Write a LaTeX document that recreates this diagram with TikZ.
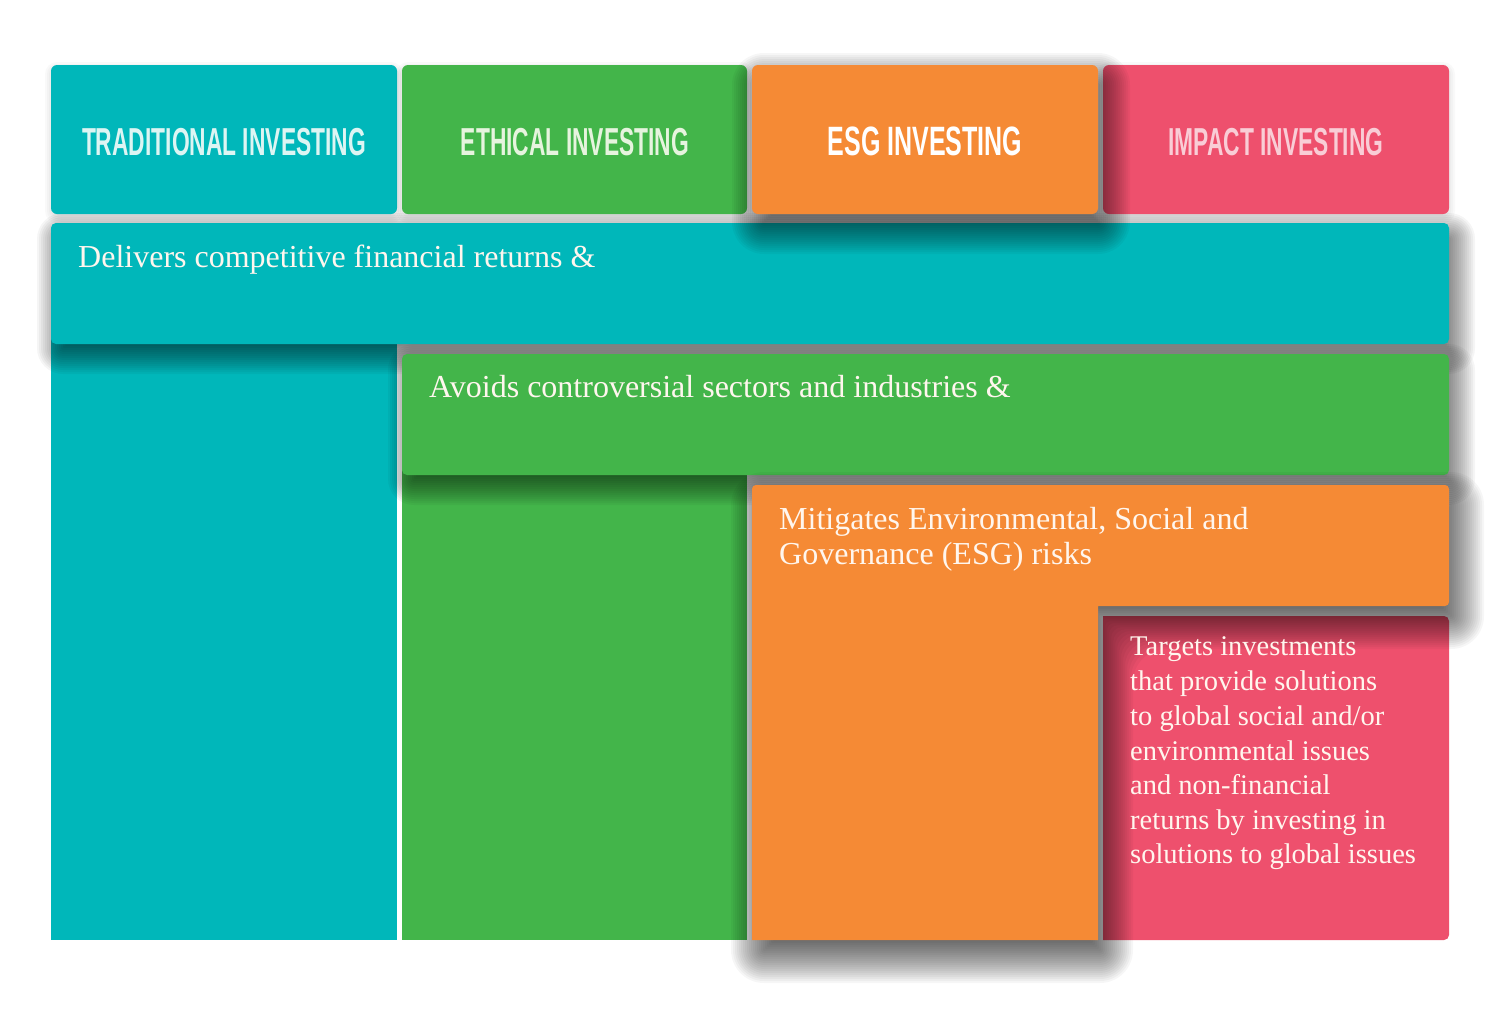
\documentclass[tikz,border=0pt]{standalone}
\usepackage{fontspec}
\usepackage{graphicx}
\setmainfont{Liberation Serif}
\newfontfamily\headfont{Liberation Sans}
\definecolor{cteal}{HTML}{00B7BA}
\definecolor{cgreen}{HTML}{43B54A}
\definecolor{corange}{HTML}{F58A35}
\definecolor{cpink}{HTML}{EE506D}
\definecolor{htteal}{HTML}{DDF5F3}
\definecolor{htgreen}{HTML}{E6F4DE}
\definecolor{htpink}{HTML}{F9CDD6}
\definecolor{bodytxt}{HTML}{FFF6EE}
% soft shadow of a rectangle: x1 y1 x2 y2 dx dy klist opacity
\newcommand\rectshadow[8]{%
  \foreach \k in {#7}{%
    \pgfmathsetmacro\rr{max(1,\k+6)}%
    \fill[black, opacity=#8, rounded corners=\rr pt]
      ({#1+#5-\k},{#2+#6-\k}) rectangle ({#3+#5+\k},{#4+#6+\k});}}
% soft shadow of the L shape: x1 y1 x2 y2 xi y3 dx dy klist (opacity \Lop)
\newcommand\Lshadow[9]{%
  \foreach \k in {#9}{%
    \pgfmathsetmacro\rr{max(1,\k+5)}%
    \fill[black, opacity=\Lop, rounded corners=\rr pt]
      ({#1+#7-\k},{#2+#8-\k}) -- ({#3+#7+\k},{#2+#8-\k}) -- ({#3+#7+\k},{#4+#8+\k})
      -- ({#5+#7+\k},{#4+#8+\k}) -- ({#5+#7+\k},{#6+#8+\k}) -- ({#1+#7-\k},{#6+#8+\k}) -- cycle;}}
\def\Lop{0.035}
\tikzset{
  hdrtext/.style={inner sep=0pt, anchor=center},
  bodyline/.style={inner sep=0pt, anchor=base west, text=bodytxt, font=\fontsize{32}{35}\selectfont},
  pinkline/.style={inner sep=0pt, anchor=base west, text=bodytxt, font=\fontsize{28.5}{35}\selectfont},
}
\newcommand\hdr[3]{{\headfont\fontsize{#1}{#1}\selectfont\bfseries\scalebox{#2}[1]{#3}}}
\begin{document}
\begin{tikzpicture}[x=1pt,y=-1pt]
\useasboundingbox (0,0) rectangle (1500,1026);
\fill[white] (0,0) rectangle (1500,1026);
% teal column
\fill[cteal] (51,320) rectangle (397,940);
% teal band
\rectshadow{51}{223}{1449}{344}{6}{10}{-16,-14,...,20}{0.04}
\fill[cteal, rounded corners=5] (51,223) rectangle (1449,344);
% green column
\fill[cgreen] (402,450) rectangle (747,940);
% green band
\rectshadow{402}{354}{1449}{475}{6}{10}{-16,-14,...,20}{0.04}
\fill[cgreen, rounded corners=5] (402,354) rectangle (1449,475);
% pink box
\fill[cpink, rounded corners=5] (1103,616) -- (1449,616) -- (1449,940) [sharp corners] -- (1103,940) -- cycle;
% orange L
\Lshadow{752}{485}{1449}{606}{1098}{940}{7}{15}{-20,-18,...,28}
\fill[corange, rounded corners=4] (752,485) -- (1449,485) -- (1449,606) [sharp corners] -- (1098,606) -- (1098,940) -- (752,940) [rounded corners=4] -- cycle;
% headers
\rectshadow{51}{65}{397}{214}{0}{3}{-4,-2,...,6}{0.025}
\fill[cteal, rounded corners=6] (51,65) rectangle (397,214);
\rectshadow{402}{65}{747}{214}{0}{3}{-4,-2,...,6}{0.025}
\fill[cgreen, rounded corners=6] (402,65) rectangle (747,214);
\rectshadow{1103}{65}{1449}{214}{0}{3}{-4,-2,...,6}{0.025}
\fill[cpink, rounded corners=6] (1103,65) rectangle (1449,214);
\rectshadow{752}{65}{1098}{214}{6}{14}{-20,-18,...,26}{0.035}
\fill[corange, rounded corners=6] (752,65) rectangle (1098,214);
% header texts
\node[hdrtext, text=htteal] (h1) at (224,142) {\hdr{39}{0.585}{TRADITIONAL INVESTING}};
\node[hdrtext, text=htgreen] (h2) at (575,142) {\hdr{39}{0.585}{ETHICAL INVESTING}};
\node[hdrtext, text=white] (h3) at (925,141.5) {\hdr{41}{0.61}{ESG INVESTING}};
\node[hdrtext, text=htpink] (h4) at (1276,142) {\hdr{39}{0.585}{IMPACT INVESTING}};
% body texts
\node[bodyline] (t1) at (78,267) {Delivers competitive financial returns \&};
\node[bodyline] (t2) at (429,397) {Avoids controversial sectors and industries \&};
\node[bodyline] (t3a) at (779,529) {Mitigates Environmental, Social and};
\node[bodyline] (t3b) at (779,564) {Governance (ESG) risks};
\node[pinkline] (p1) at (1130,655) {Targets investments};
\node[pinkline] (p2) at (1130,690) {that provide solutions};
\node[pinkline] (p3) at (1130,725) {to global social and/or};
\node[pinkline] (p4) at (1130,760) {environmental issues};
\node[pinkline] (p5) at (1130,794) {and non-financial};
\node[pinkline] (p6) at (1130,829) {returns by investing in};
\node[pinkline] (p7) at (1130,863) {solutions to global issues};
\end{tikzpicture}
\end{document}
